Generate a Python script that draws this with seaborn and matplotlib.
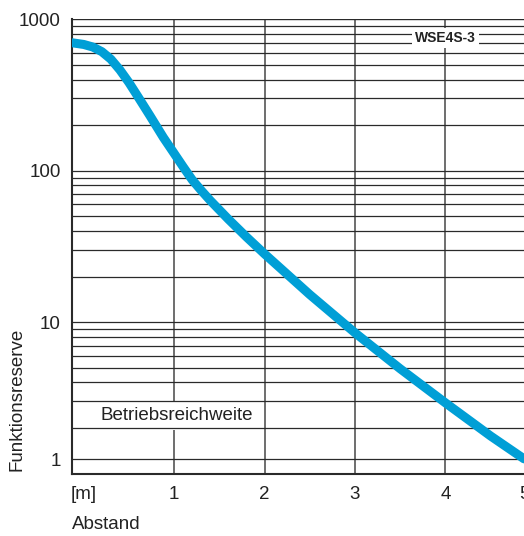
import numpy as np
import pandas as pd
import matplotlib.pyplot as plt
import matplotlib.transforms as mtransforms
import seaborn as sns

# curve: Abstand [m] vs Funktionsreserve
abstand = [-0.13, 0.0, 0.1, 0.2, 0.3, 0.4, 0.5, 0.6, 0.73, 0.88, 1.0, 1.1,
           1.2, 1.3, 1.4, 1.6, 1.8, 2.0, 2.5, 3.0, 3.5, 4.0, 4.5, 4.87]
reserve = [700, 682, 656, 611, 545, 463, 382, 308, 232, 166, 130, 106,
           87, 74, 63.5, 47.8, 36.5, 28.2, 15.2, 8.5, 4.92, 2.93, 1.77, 1.25]

# the "5" sits at the cropped right edge in the reference
x_ticks = [0, 1, 2, 3, 4, 4.87]
x_labels = ["[m]", "1", "2", "3", "4", "5"]
y_ticks = [1, 10, 100, 1000]
y_labels = ["1", "10", "100", "1000"]
sensor = "WSE4S-3"
bereich = "Betriebsreichweite"

sns.set_style("white")
plt.rcParams['font.family'] = ['Liberation Sans', 'DejaVu Sans']

df = pd.DataFrame({"Abstand": abstand, "Funktionsreserve": reserve})

fig = plt.figure(figsize=(5.24, 5.36), dpi=100)
ax = fig.add_axes([0.1374, 0.1166, 0.8626, 0.8474])
ax.set_yscale("log")
ax.set_xlim(-0.13, 4.87)
ax.set_ylim(1, 1000)

# grid
for dec in [1, 10, 100]:
    for m in range(1, 10):
        if dec * m > 1:
            ax.axhline(dec * m, color="#2a2a2a", lw=0.9, zorder=2.5)
ax.axhline(1000, color="#2a2a2a", lw=1.0, zorder=2.5)
ax.axhline(1.24, color="#2a2a2a", lw=0.9, zorder=2.5)
for xv in [1, 2, 3, 4]:
    ax.axvline(xv, color="#555555", lw=1.2, zorder=1)

sns.lineplot(data=df, x="Abstand", y="Funktionsreserve", color="#009fd6",
             lw=6.5, ax=ax, zorder=4, solid_capstyle="round", solid_joinstyle="round")

ax.text(1.03, 2.4, bereich, fontsize=13.5, color="#222222", ha="center", va="center",
        zorder=2, bbox=dict(boxstyle="square,pad=0.3", fc="white", ec="none"))
ax.text(4.0, 753, sensor, fontsize=10, fontweight="bold", color="#222222",
        ha="center", va="center", zorder=3,
        bbox=dict(boxstyle="square,pad=0.2", fc="white", ec="none"))

ax.set_xticks(x_ticks, x_labels)
ax.set_yticks(y_ticks, y_labels)
ax.minorticks_off()
ax.tick_params(axis="both", length=0, labelsize=13.5, colors="#222222")
ax.tick_params(axis="x", pad=9)
ax.tick_params(axis="y", pad=8)
# the "1" label sits a little above the axis line in the reference
lab = ax.get_yticklabels()[0]
lab.set_transform(lab.get_transform() + mtransforms.ScaledTranslation(0, 0.14, fig.dpi_scale_trans))

ax.set_xlabel("Abstand", loc="left", fontsize=13.5, color="#222222")
ax.set_ylabel("Funktionsreserve", loc="bottom", fontsize=13.5, color="#222222")
ax.xaxis.set_label_coords(0.0, -0.094)
ax.yaxis.set_label_coords(-0.102, 0.005)

for s in ["left", "bottom"]:
    ax.spines[s].set_color("#2a2a2a")
    ax.spines[s].set_linewidth(1.5)
ax.spines["top"].set_visible(False)
ax.spines["right"].set_visible(False)

fig.savefig("out.png", dpi=100)
